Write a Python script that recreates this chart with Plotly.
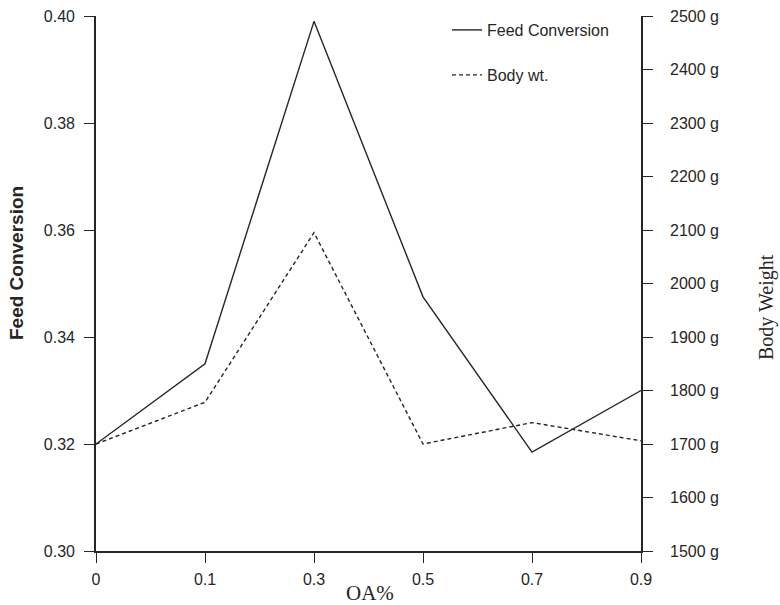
import plotly.graph_objects as go

categories = ["0", "0.1", "0.3", "0.5", "0.7", "0.9"]
feed_conversion = [0.320, 0.335, 0.399, 0.3475, 0.3185, 0.330]
body_weight = [1700, 1778, 2095, 1700, 1740, 1706]

left_ticks = [0.30, 0.32, 0.34, 0.36, 0.38, 0.40]
right_ticks = [1500, 1600, 1700, 1800, 1900, 2000, 2100, 2200, 2300, 2400, 2500]
right_labels = [f"{v} g" for v in right_ticks]

INK = "#262626"
SANS = "Liberation Sans, Arial, sans-serif"
SERIF = "Liberation Serif, Times New Roman, serif"

# plot area in page pixels: x 96..641, y 16..551
PX_L, PX_T, PW, PH = 96, 16, 545, 535


def px(xp):
    return (xp - PX_L) / PW


def py(yp):
    return (PX_T + PH - yp) / PH


fig = go.Figure()
fig.add_trace(go.Scatter(
    x=categories, y=feed_conversion, mode="lines", name="Feed Conversion",
    line=dict(color=INK, width=1.4), yaxis="y", legend="legend", showlegend=True))
fig.add_trace(go.Scatter(
    x=categories, y=body_weight, mode="lines", name="Body wt.",
    line=dict(color=INK, width=1.4, dash="4px,3px"), yaxis="y2", legend="legend2",
    showlegend=True))

axis_common = dict(showgrid=False, zeroline=False, showline=True, linecolor=INK,
                   linewidth=1.6, ticks="outside", ticklen=10, tickwidth=1.4,
                   tickcolor=INK, automargin=False, ticklabeloverflow="allow",
                   tickfont=dict(family=SANS, size=16, color=INK))

fig.update_layout(
    width=780, height=605,
    margin=dict(l=96, r=139, t=16, b=54, autoexpand=False),
    showlegend=True,
    plot_bgcolor="white", paper_bgcolor="white",
    xaxis=dict(type="category", range=[0, 5], ticklabelstandoff=3, **axis_common),
    yaxis=dict(range=[0.30, 0.40], tickvals=left_ticks, tickformat=".2f",
               ticklabelstandoff=6, **axis_common),
    yaxis2=dict(range=[1500, 2500], tickvals=right_ticks, ticktext=right_labels,
                overlaying="y", side="right", ticklabelstandoff=14, **axis_common),
    legend=dict(x=px(447), y=py(13), xanchor="left", yanchor="top",
                bgcolor="rgba(0,0,0,0)", font=dict(family=SANS, size=16, color=INK)),
    legend2=dict(x=px(447), y=py(58), xanchor="left", yanchor="top",
                 bgcolor="rgba(0,0,0,0)", font=dict(family=SANS, size=16, color=INK)),
    annotations=[
        dict(text="<b>Feed Conversion</b>", textangle=-90, xref="paper", yref="paper",
             x=px(16), y=py(263), showarrow=False,
             xanchor="center", yanchor="middle",
             font=dict(family=SANS, size=19, color=INK)),
        dict(text="Body Weight", textangle=-90, xref="paper", yref="paper",
             x=px(766), y=py(307), showarrow=False,
             xanchor="center", yanchor="middle",
             font=dict(family=SERIF, size=20, color=INK)),
        dict(text="OA%", xref="paper", yref="paper",
             x=px(370), y=py(593), showarrow=False,
             xanchor="center", yanchor="middle",
             font=dict(family=SERIF, size=21, color=INK)),
    ],
)

fig.write_html(
    "out.html",
    config={"displayModeBar": False},
    post_script="document.body.style.margin='0';document.body.style.overflow='hidden';",
)
